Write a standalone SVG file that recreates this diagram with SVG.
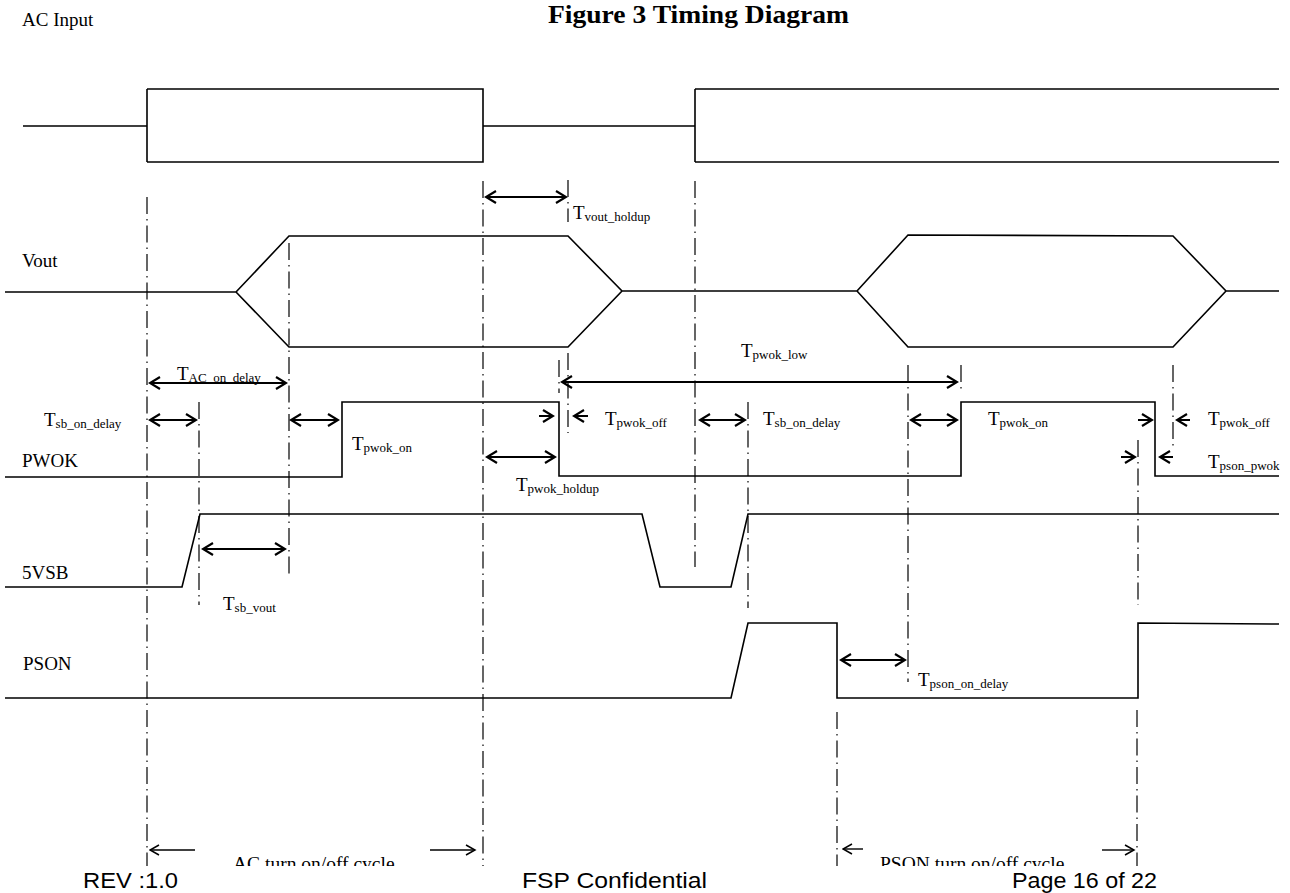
<svg xmlns="http://www.w3.org/2000/svg" width="1290" height="893" viewBox="0 0 1290 893">
<defs>
<style>
.w{fill:none;stroke:#000;stroke-width:1.6;stroke-linejoin:miter}
.dd{fill:none;stroke:#000;stroke-width:1.2;stroke-dasharray:17 5 1.5 5}
.dim{fill:none;stroke:#000;stroke-width:2;marker-start:url(#ah);marker-end:url(#ah)}
.one{fill:none;stroke:#000;stroke-width:2;marker-end:url(#ah)}
.thin{fill:none;stroke:#000;stroke-width:1.4;marker-end:url(#ah2)}
.lbl{font-family:"Liberation Serif","Times New Roman",serif;font-size:19px;fill:#000}
.sub{font-size:13px}
.foot{font-family:"Liberation Sans",Arial,sans-serif;font-size:22px;fill:#000}
.title{font-family:"Liberation Serif","Times New Roman",serif;font-size:25px;font-weight:bold;fill:#000}
</style>
<marker id="ah" markerUnits="userSpaceOnUse" viewBox="0 0 14 14" refX="12" refY="7" markerWidth="14" markerHeight="14" orient="auto-start-reverse"><path d="M2,1 L12,7 L2,13" fill="none" stroke="#000" stroke-width="2.2"/></marker>
<marker id="ah2" markerUnits="userSpaceOnUse" viewBox="0 0 12 12" refX="10.5" refY="6" markerWidth="12" markerHeight="12" orient="auto-start-reverse"><path d="M1.5,1 L10.5,6 L1.5,11" fill="none" stroke="#000" stroke-width="1.5"/></marker>
<clipPath id="cb"><rect x="0" y="0" width="1290" height="866"/></clipPath>
</defs>
<rect width="1290" height="893" fill="#fff"/>

<g id="header">
<text class="lbl" x="22" y="26">AC Input</text>
<text class="title" x="548" y="23" textLength="301" lengthAdjust="spacingAndGlyphs">Figure 3 Timing Diagram</text>
</g>

<g id="guides">
<line class="dd" x1="147" y1="197" x2="147" y2="866"/>
<line class="dd" x1="199" y1="402" x2="199" y2="605"/>
<line class="dd" x1="289" y1="243" x2="289" y2="575"/>
<line class="dd" x1="483" y1="181" x2="483" y2="866"/>
<line class="dd" x1="559" y1="360" x2="559" y2="393"/>
<line class="dd" x1="568" y1="180" x2="568" y2="222"/>
<line class="dd" x1="568" y1="353" x2="568" y2="433"/>
<line class="dd" x1="695" y1="181" x2="695" y2="567"/>
<line class="dd" x1="748" y1="402" x2="748" y2="608"/>
<line class="dd" x1="837" y1="712" x2="837" y2="866"/>
<line class="dd" x1="908" y1="365" x2="908" y2="682"/>
<line class="dd" x1="961" y1="365" x2="961" y2="393"/>
<line class="dd" x1="1138" y1="440" x2="1138" y2="605"/>
<line class="dd" x1="1137" y1="710" x2="1137" y2="866"/>
<line class="dd" x1="1173" y1="365" x2="1173" y2="450"/>
</g>

<g id="ac-input">
<path class="w" d="M23,126 H147 M147,89 V162 M147,89 H483 V162 H147 M483,126 H695 M695,89 V162 M695,89 H1279 M695,162 H1279"/>
</g>
<g id="vout">
<text class="lbl" x="22" y="267">Vout</text>
<path class="w" d="M5,292 H236 L289,236 H568 L622,291 L568,347 H289 L236,292 M622,291 H857 L908,235 L1173,236 L1226,291 L1173,347 H908 L857,291 M1226,291 H1279"/>
</g>
<g id="pwok">
<text class="lbl" x="22" y="467">PWOK</text>
<path class="w" d="M5,477 H342 V402 H559 V476 H961 V402 H1155 V476 H1279"/>
</g>
<g id="vsb">
<text class="lbl" x="22" y="579">5VSB</text>
<path class="w" d="M5,587 H182 L200,514 H642 L660,587 H731 L748,514 H1279"/>
</g>
<g id="pson">
<text class="lbl" x="23" y="670">PSON</text>
<path class="w" d="M5,698 H731 L748,623 H837 V698 H1138 V623 L1279,624"/>
</g>

<g id="connectors">
<line class="dim" x1="486" y1="197" x2="566" y2="197"/>
<line class="dim" x1="150" y1="383" x2="286" y2="383"/>
<line class="dim" x1="150" y1="420" x2="196" y2="420"/>
<line class="dim" x1="291" y1="420" x2="338" y2="420"/>
<line class="dim" x1="487" y1="457" x2="555" y2="457"/>
<line class="dim" x1="203" y1="549" x2="285" y2="549"/>
<line class="dim" x1="562" y1="382" x2="957" y2="382"/>
<line class="one" x1="539" y1="416" x2="553" y2="416"/>
<line class="one" x1="588" y1="416" x2="574" y2="416"/>
<line class="dim" x1="700" y1="420" x2="745" y2="420"/>
<line class="dim" x1="911" y1="420" x2="957" y2="420"/>
<line class="one" x1="1138" y1="420" x2="1152" y2="420"/>
<line class="one" x1="1190" y1="420" x2="1177" y2="420"/>
<line class="one" x1="1121" y1="457" x2="1135" y2="457"/>
<line class="one" x1="1173" y1="457" x2="1160" y2="457"/>
<line class="dim" x1="841" y1="660" x2="905" y2="660"/>
<line class="thin" x1="195" y1="850" x2="150" y2="850"/>
<line class="thin" x1="430" y1="850" x2="475" y2="850"/>
<line class="thin" x1="863" y1="849" x2="843" y2="849"/>
<line class="thin" x1="1102" y1="850" x2="1134" y2="850"/>
</g>

<g id="labels">
<text class="lbl" x="573" y="219">T<tspan class="sub" dy="2">vout_holdup</tspan></text>
<text class="lbl" x="177" y="380">T<tspan class="sub" dy="2">AC_on_delay</tspan></text>
<text class="lbl" x="44" y="426">T<tspan class="sub" dy="2">sb_on_delay</tspan></text>
<text class="lbl" x="352" y="450">T<tspan class="sub" dy="2">pwok_on</tspan></text>
<text class="lbl" x="741" y="357">T<tspan class="sub" dy="2">pwok_low</tspan></text>
<text class="lbl" x="605" y="425">T<tspan class="sub" dy="2">pwok_off</tspan></text>
<text class="lbl" x="763" y="425">T<tspan class="sub" dy="2">sb_on_delay</tspan></text>
<text class="lbl" x="516" y="491">T<tspan class="sub" dy="2">pwok_holdup</tspan></text>
<text class="lbl" x="988" y="425">T<tspan class="sub" dy="2">pwok_on</tspan></text>
<text class="lbl" x="1208" y="425">T<tspan class="sub" dy="2">pwok_off</tspan></text>
<text class="lbl" x="1208" y="468">T<tspan class="sub" dy="2">pson_pwok</tspan></text>
<text class="lbl" x="223" y="610">T<tspan class="sub" dy="2">sb_vout</tspan></text>
<text class="lbl" x="918" y="686">T<tspan class="sub" dy="2">pson_on_delay</tspan></text>
<g clip-path="url(#cb)">
<text class="lbl" x="233" y="870" style="font-size:19.5px">AC turn on/off cycle</text>
<text class="lbl" x="880" y="870" style="font-size:19.5px">PSON turn on/off cycle</text>
</g>
</g>

<g id="footer">
<text class="foot" x="83" y="888" textLength="95" lengthAdjust="spacingAndGlyphs">REV :1.0</text>
<text class="foot" x="522" y="888" textLength="185" lengthAdjust="spacingAndGlyphs">FSP Confidential</text>
<text class="foot" x="1012" y="888" textLength="145" lengthAdjust="spacingAndGlyphs">Page 16 of 22</text>
</g>
</svg>
